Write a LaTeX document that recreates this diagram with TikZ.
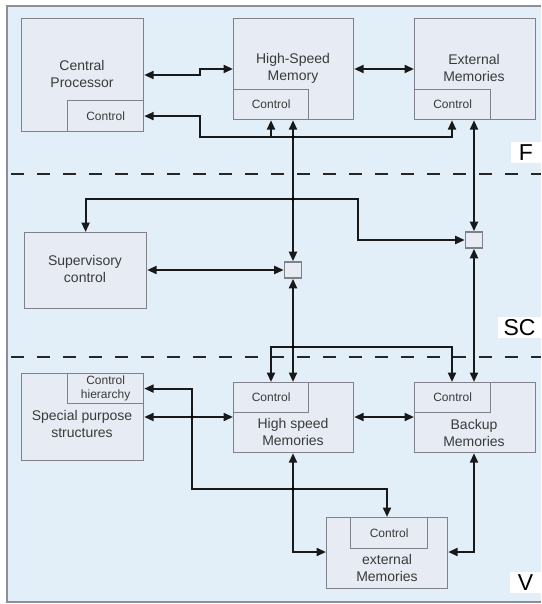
\documentclass[tikz,border=0pt]{standalone}
\usepackage{fontspec}
\setmainfont{Liberation Sans}
\usetikzlibrary{arrows.meta}
\definecolor{bgblue}{HTML}{E2EEF8}
\definecolor{boxfill}{HTML}{E7ECF4}
\definecolor{boxline}{HTML}{7E8288}
\definecolor{framec}{HTML}{8C9096}
\definecolor{txtc}{HTML}{3A3A3A}
\tikzset{
  box/.style={draw=boxline, fill=boxfill, line width=1.2pt, inner sep=0pt, anchor=north west},
  ctl/.style={box, text=txtc, font=\fontsize{12}{14}\selectfont},
  sq/.style={draw=boxline, fill=boxfill, line width=1.6pt, minimum width=17pt, minimum height=16pt, inner sep=0pt},
  txt/.style={text=txtc, align=center, font=\fontsize{14}{17}\selectfont, inner sep=0pt},
  lab/.style={fill=white, text=black, font=\fontsize{23}{23}\selectfont, inner sep=0pt},
  wire/.style={line width=2.1pt, draw=black!90, >={Triangle[length=9.5pt,width=8pt]}},
  level/.style={line width=2.8pt, draw=black!85, dash pattern=on 13pt off 13pt},
  jdot/.style={circle, fill=black, inner sep=0pt, minimum size=3.6pt},
}
\begin{document}
\begin{tikzpicture}[x=1pt, y=-1pt]
\useasboundingbox (0,0) rectangle (541,604);
% panel
\fill[bgblue] (7,6) rectangle (541,602);
\draw[framec, line width=1.4pt] (541,6) -- (7,6) -- (7,602) -- (541,602);

% level separators
\draw[level] (11,174) -- (541,174);
\draw[level] (11,357) -- (541,357);

% level F
\node[box, minimum width=122pt, minimum height=113pt] (cp) at (21,18) {};
\node[ctl, minimum width=76pt, minimum height=31pt] (cpc) at (67,100) {Control};
\node[txt] (cpt) at (82,74) {Central\\Processor};

\node[box, minimum width=120pt, minimum height=101pt] (hsm) at (233,18) {};
\node[ctl, minimum width=75pt, minimum height=30pt] (hsmc) at (233,89) {Control};
\node[txt] (hsmt) at (293,68) {High-Speed\\Memory};

\node[box, minimum width=121pt, minimum height=101pt] (ext) at (414,18) {};
\node[ctl, minimum width=76pt, minimum height=30pt] (extc) at (414,89) {Control};
\node[txt] (extt) at (474,68) {External\\Memories};

% level SC
\node[box, minimum width=122pt, minimum height=76pt] (sup) at (24,232) {};
\node[txt] (supt) at (85,269) {Supervisory\\control};
\node[sq] (sqa) at (293,270) {};
\node[sq] (sqb) at (474,240) {};

% level V
\node[box, minimum width=122pt, minimum height=87pt] (spec) at (21,373) {};
\node[ctl, minimum width=76pt, minimum height=30pt, align=center, font=\fontsize{12}{14}\selectfont] (spech) at (67,373) {Control\\hierarchy};
\node[txt] (spect) at (82,424) {Special purpose\\structures};

\node[box, minimum width=120pt, minimum height=70pt] (hsv) at (233,382) {};
\node[ctl, minimum width=75pt, minimum height=30pt] (hsvc) at (233,382) {Control};
\node[txt] (hsvt) at (293,432) {High speed\\Memories};

\node[box, minimum width=121pt, minimum height=70pt] (bak) at (414,382) {};
\node[ctl, minimum width=76pt, minimum height=30pt] (bakc) at (414,382) {Control};
\node[txt] (bakt) at (474,433) {Backup\\Memories};

\node[box, minimum width=121pt, minimum height=71pt] (exm) at (326,517) {};
\node[ctl, minimum width=77pt, minimum height=31pt] (exmc) at (350,517) {Control};
\node[txt] (exmt) at (387,568) {external\\Memories};

% level labels
\node[lab, minimum width=30pt, minimum height=21pt] (lf) at (526,152.5) {F};
\node[lab, minimum width=43pt, minimum height=21pt] (lsc) at (519.5,327.5) {SC};
\node[lab, minimum width=31pt, minimum height=21pt] (lv) at (525.5,582.5) {V};

% connections, level F
\draw[wire,<->] (cp.east |- 0,75) -| (200,69) -- (hsm.west |- 0,69);
\draw[wire,<->] (hsm.east |- 0,69) -- (ext.west |- 0,69);
\draw[wire,<->] (cpc.east) -| (200,137) -| (452,0 |- extc.south);
\draw[wire,->] (271,137) -- (271,0 |- hsmc.south);
\draw[wire,<->] (293,0 |- hsmc.south) -- (sqa.north);
\draw[wire,<->] (474,0 |- extc.south) -- (sqb.north);

% connections, level SC
\draw[wire,<->] (sup.north) |- (358,199) |- (sqb.west);
\draw[wire,<->] (sup.east |- sqa.west) -- (sqa.west);
\draw[wire,<->] (sqa.south) -- (293,0 |- hsvc.north);
\draw[wire,->] (293,347) -| (271,0 |- hsvc.north);
\draw[wire,->] (293,347) -| (452,0 |- bakc.north);
\draw[wire,<->] (sqb.south) -- (474,0 |- bakc.north);

% connections, level V
\draw[wire,<->] (spec.east |- 0,417) -- (hsv.west |- 0,417);
\draw[wire,<->] (hsv.east |- 0,417) -- (bak.west |- 0,417);
\draw[wire,<->] (spech.east) -| (192,489) -| (387,0 |- exmc.north);
\draw[wire,<->] (293,0 |- hsv.south) |- (exm.west |- 0,552);
\draw[wire,<->] (474,0 |- bak.south) |- (exm.east |- 0,552);

% junctions
\node[jdot] (j1) at (293,137) {};
\node[jdot] (j2) at (293,199) {};
\node[jdot] (j3) at (293,347) {};
\node[jdot] (j4) at (192,417) {};
\node[jdot] (j5) at (293,489) {};
\end{tikzpicture}
\end{document}
